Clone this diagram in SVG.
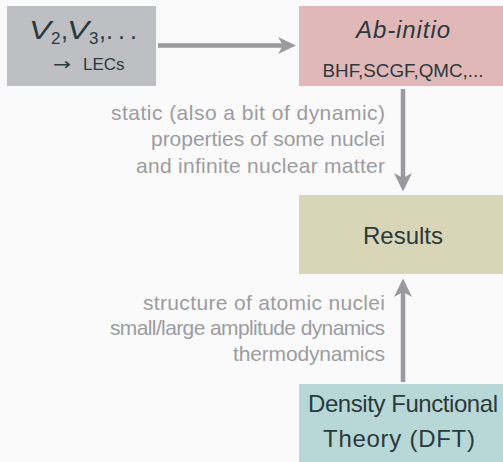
<svg xmlns="http://www.w3.org/2000/svg" width="503" height="462" viewBox="0 0 503 462">
<defs>
<style>
.bg{fill:#fafafa}
.node text{font-family:"Liberation Sans",Arial,sans-serif;fill:#2b3a3e}
.big{font-size:24px}
.sm{font-size:17px}
.it{font-style:italic}
.lbl{font-family:"Liberation Sans",Arial,sans-serif;font-size:21px;fill:#9c9ca0;text-anchor:end}
.mid{text-anchor:middle}
.edge line{stroke:#9a9a9e;stroke-width:4.5}
.head{fill:#9a9a9e}
</style>
</defs>
<rect class="bg" x="0" y="0" width="503" height="462"/>
<g id="node-lecs" class="node">
<rect x="7" y="6" width="149" height="80" fill="#bebfc3"/>
<text class="it" font-size="26" x="29" y="39" textLength="22" lengthAdjust="spacingAndGlyphs">V</text>
<text class="sm" x="51" y="44">2</text>
<text font-size="25" x="61" y="39">,</text>
<text class="it" font-size="26" x="67" y="39" textLength="22" lengthAdjust="spacingAndGlyphs">V</text>
<text class="sm" x="89" y="44">3</text>
<text font-size="25" x="99" y="39">,</text>
<text font-size="25" x="106" y="39">.</text>
<text font-size="25" x="118" y="39">.</text>
<text font-size="25" x="130" y="39">.</text>
<text style="font-family:'DejaVu Sans',sans-serif" font-size="17" x="53" y="70" textLength="18" lengthAdjust="spacingAndGlyphs">→</text>
<text class="sm" x="83" y="70">LECs</text>
</g>
<g id="node-abinitio" class="node">
<rect x="299" y="6" width="204" height="80" fill="#e1b8b8"/>
<text class="big it mid" x="403" y="38" textLength="94">Ab-initio</text>
<text class="mid" font-size="18" x="403" y="77" textLength="161" lengthAdjust="spacingAndGlyphs">BHF,SCGF,QMC,...</text>
</g>
<g id="node-results" class="node">
<rect x="299" y="195" width="204" height="79" fill="#d8d6b7"/>
<text class="big mid" x="403" y="244">Results</text>
</g>
<g id="node-dft" class="node">
<rect x="299" y="384" width="204" height="78" fill="#b7d8d6"/>
<text class="big mid" x="403" y="412" textLength="190">Density Functional</text>
<text class="big mid" x="399" y="447" textLength="152">Theory (DFT)</text>
</g>
<g id="connectors" class="edge">
<line x1="158" y1="45.5" x2="284" y2="45.5"/>
<path class="head" d="M296,45.5 L278,37 L283,45.5 L278,54 Z"/>
<line x1="403" y1="89" x2="403" y2="179"/>
<path class="head" d="M403,191.5 L394,173 L403,178 L412,173 Z"/>
<line x1="403" y1="382" x2="403" y2="292"/>
<path class="head" d="M403,278.5 L394,297 L403,292 L412,297 Z"/>
</g>
<g id="labels">
<text class="lbl" x="385" y="120" textLength="274">static (also a bit of dynamic)</text>
<text class="lbl" x="385" y="146" textLength="234">properties of some nuclei</text>
<text class="lbl" x="385" y="173" textLength="249">and infinite nuclear matter</text>
<text class="lbl" x="385" y="310" textLength="242">structure of atomic nuclei</text>
<text class="lbl" x="385" y="335" textLength="275">small/large amplitude dynamics</text>
<text class="lbl" x="385" y="361" textLength="152">thermodynamics</text>
</g>
</svg>
